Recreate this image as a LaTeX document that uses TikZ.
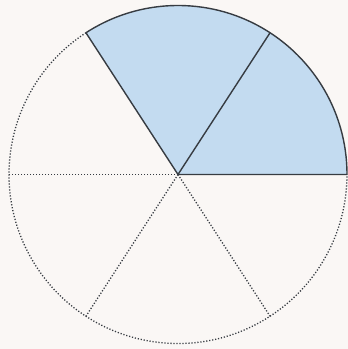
\documentclass[tikz,border=0pt]{standalone}
\usepackage{xcolor}
\usepackage{tikz}
\usetikzlibrary{calc}
\definecolor{pagebg}{RGB}{250,247,245}
\definecolor{slicefill}{RGB}{195,219,240}
\definecolor{edgegray}{RGB}{55,60,66}

\begin{document}
\begin{tikzpicture}[x=1pt,y=1pt,
  shaded/.style={fill=slicefill},
  edge/.style={draw=edgegray,line width=1.4pt,line join=round},
  dots/.style={draw=edgegray,line width=1.3pt,dash pattern=on 1.2pt off 1.8pt}
]
\fill[pagebg] (0,0) rectangle (348,349);
\useasboundingbox (0,0) rectangle (348,349);
\coordinate (o) at (178,174.5);
\def\rad{169}
% two shaded slices
\fill[shaded] (o) -- ++(0:\rad) arc[start angle=0,end angle=123,radius=\rad] -- cycle;
% the rest, dotted
\draw[dots] (o) ++(123:\rad) arc[start angle=123,end angle=360,radius=\rad];
\foreach \a in {180,237,303}
  \draw[dots] (o) -- ++(\a:\rad);
% solid edges
\draw[edge] (o) -- ++(57:\rad);
\draw[edge] (o) ++(0:\rad) arc[start angle=0,end angle=123,radius=\rad] -- (o) -- cycle;
\end{tikzpicture}
\end{document}
